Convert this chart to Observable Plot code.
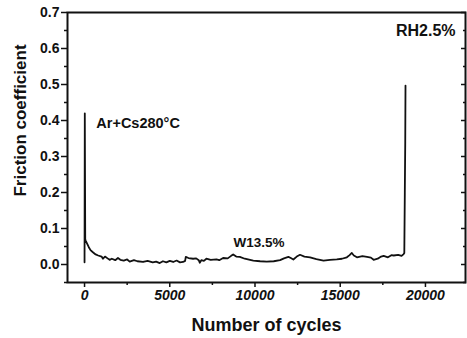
<!DOCTYPE html>
<html>
<head>
<meta charset="utf-8">
<script src="https://cdn.jsdelivr.net/npm/d3@7"></script>
<script src="https://cdn.jsdelivr.net/npm/@observablehq/plot@0.6"></script>
<style>
  html, body { margin: 0; padding: 0; background: #fff; }
  #chart svg { display: block; }
</style>
</head>
<body>
<div id="chart"></div>
<script>
// Friction coefficient vs number of cycles
const cycles = [0, 15, 40, 80, 150, 250, 350, 490, 650, 800, 1000, 1080, 1200, 1350, 1470, 1600, 1800, 1960, 2100, 2300, 2500, 2650, 2900, 3100, 3430, 3700, 4000, 4200, 4410, 4600, 4800, 5000, 5200, 5400, 5600, 5780, 5900, 5940, 6100, 6370, 6550, 6700, 6760, 6850, 7000, 7150, 7400, 7740, 7900, 8130, 8400, 8600, 8720, 8900, 9110, 9400, 9900, 10300, 10690, 11100, 11470, 11700, 11960, 12100, 12250, 12450, 12640, 12900, 13230, 13600, 14020, 14400, 14800, 15100, 15390, 15550, 15680, 15800, 15980, 16300, 16570, 16800, 16960, 17200, 17400, 17550, 17800, 18000, 18140, 18400, 18600, 18720, 18760, 18790, 18815, 18830];
const friction = [0.006, 0.42, 0.07, 0.065, 0.058, 0.048, 0.040, 0.034, 0.028, 0.025, 0.022, 0.016, 0.022, 0.017, 0.013, 0.016, 0.012, 0.018, 0.013, 0.011, 0.014, 0.008, 0.012, 0.009, 0.007, 0.010, 0.006, 0.008, 0.004, 0.009, 0.006, 0.010, 0.007, 0.011, 0.006, 0.007, 0.010, 0.021, 0.018, 0.016, 0.017, 0.012, 0.005, 0.012, 0.010, 0.016, 0.013, 0.014, 0.012, 0.018, 0.017, 0.024, 0.028, 0.022, 0.021, 0.016, 0.011, 0.009, 0.008, 0.009, 0.012, 0.017, 0.021, 0.018, 0.014, 0.022, 0.027, 0.022, 0.020, 0.015, 0.011, 0.013, 0.014, 0.016, 0.020, 0.026, 0.032, 0.025, 0.020, 0.023, 0.021, 0.019, 0.013, 0.016, 0.022, 0.024, 0.020, 0.026, 0.025, 0.027, 0.024, 0.029, 0.032, 0.20, 0.34, 0.497];

const xTicks = [0, 5000, 10000, 15000, 20000];
const xMinor = [2500, 7500, 12500, 17500];
const yTicks = [0.0, 0.1, 0.2, 0.3, 0.4, 0.5, 0.6, 0.7];
const yMinor = [-0.05, 0.05, 0.15, 0.25, 0.35, 0.45, 0.55, 0.65];

const annText = ["Ar+Cs280°C", "W13.5%", "RH2.5%"];
const annX = [690, 10235, 21765];
const annY = [0.393, 0.062, 0.648];

const data = cycles.map((c, i) => ({c, f: friction[i]}));
const FONT = "'Liberation Sans', Arial, Helvetica, sans-serif";
const ink = "#111";

const chart = Plot.plot({
  width: 467,
  height: 338,
  marginLeft: 67,
  marginRight: 2,
  marginTop: 12,
  marginBottom: 56,
  style: {fontFamily: FONT, color: ink, background: "#fff"},
  x: {domain: [-1000, 22350]},
  y: {domain: [-0.05, 0.7]},
  marks: [
    Plot.axisY({ticks: yTicks, tickSize: 6, tickPadding: 2, tickFormat: d => d.toFixed(1), fontSize: 14, fontWeight: "bold", label: null, strokeWidth: 1.5}),
    Plot.axisY({ticks: yMinor, tickSize: 3, tickFormat: () => "", label: null, strokeWidth: 1.5}),
    Plot.axisY({anchor: "right", ticks: yTicks, tickSize: -5, tickFormat: () => "", label: null, strokeWidth: 1.5}),
    Plot.axisY({anchor: "right", ticks: yMinor, tickSize: -3, tickFormat: () => "", label: null, strokeWidth: 1.5}),
    Plot.axisX({ticks: xTicks, tickSize: 5, tickPadding: 3, tickFormat: d => String(d), fontSize: 14, fontWeight: "bold", fontStyle: "italic", label: null, strokeWidth: 1.5}),
    Plot.axisX({ticks: xMinor, tickSize: 3, tickFormat: () => "", label: null, strokeWidth: 1.5}),
    Plot.frame({stroke: ink, strokeWidth: 2}),
    Plot.line(data, {x: "c", y: "f", stroke: ink, strokeWidth: 1.8, strokeLinejoin: "round"}),
    Plot.text([annText[0]], {x: [annX[0]], y: [annY[0]], text: d => d, textAnchor: "start", fontSize: 14.5, fontWeight: "bold", fill: ink}),
    Plot.text([annText[1]], {x: [annX[1]], y: [annY[1]], text: d => d, textAnchor: "middle", fontSize: 13.5, fontWeight: "bold", fill: ink}),
    Plot.text([annText[2]], {x: [annX[2]], y: [annY[2]], text: d => d, textAnchor: "end", fontSize: 16, fontWeight: "bold", fill: ink}),
    Plot.text(["Friction coefficient"], {frameAnchor: "left", dx: -47, dy: -27, rotate: -90, textAnchor: "middle", lineAnchor: "middle", fontSize: 17, fontWeight: "bold", fill: ink}),
    Plot.text(["Number of cycles"], {frameAnchor: "bottom", dy: 43, textAnchor: "middle", lineAnchor: "middle", fontSize: 18, fontWeight: "bold", fill: ink})
  ]
});
document.getElementById("chart").appendChild(chart);
</script>
</body>
</html>
